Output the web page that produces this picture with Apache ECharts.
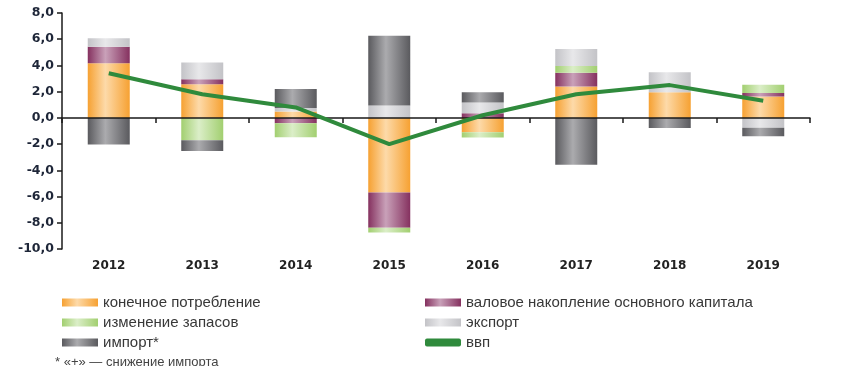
<!DOCTYPE html>
<html>
<head>
<meta charset="utf-8">
<script src="https://cdn.jsdelivr.net/npm/echarts@6/dist/echarts.min.js"></script>
<style>html,body{margin:0;padding:0;background:#fff;}#c{width:857px;height:366px;}</style>
</head>
<body>
<div id="c"></div>
<script>
var years = ['2012', '2013', '2014', '2015', '2016', '2017', '2018', '2019'];
var consumption = [4.17, 2.57, 0.48, -5.7, -1.1, 2.4, 1.96, 1.63];
var investment = [1.25, 0.38, -0.4, -2.67, 0.36, 1.05, 0, 0.26];
var inventories = [0, -1.7, -1.07, -0.38, -0.4, 0.5, 0, 0.63];
var exportVals = [0.65, 1.28, 0.27, 0.94, 0.81, 1.3, 1.53, -0.75];
var importVals = [-2.03, -0.82, 1.45, 5.32, 0.79, -3.57, -0.78, -0.65];
var gdp = [3.4, 1.8, 0.8, -2.0, 0.2, 1.8, 2.5, 1.3];
var yTicks = { min: -10, max: 8, interval: 2 };

function grad(edge, mid) {
  return new echarts.graphic.LinearGradient(0, 0, 1, 0, [
    { offset: 0, color: edge }, { offset: 0.42, color: mid }, { offset: 1, color: edge }
  ]);
}
var cols = {
  cons: grad('#f6a132', '#fddaa9'),
  inv: grad('#85315f', '#c9a1b9'),
  stock: grad('#a2cf70', '#dbeec8'),
  exp: grad('#c3c3c7', '#e8e8ea'),
  imp: grad('#5a5a5e', '#ababae')
};
var names = ['конечное потребление', 'валовое накопление основного капитала', 'изменение запасов', 'экспорт', 'импорт*', 'ввп'];

function bar(name, data, color) {
  return { name: name, type: 'bar', stack: 's', data: data, barWidth: 42,
    itemStyle: { color: color }, xAxisIndex: 0, yAxisIndex: 0, z: 2 };
}
var legendText = { fontFamily: 'Liberation Sans', fontSize: 15, color: '#383838', lineHeight: 15 };

var chart = echarts.init(document.getElementById('c'), null, { renderer: 'canvas' });
chart.setOption({
  animation: false,
  backgroundColor: '#ffffff',
  grid: { left: 62, right: 47, top: 13, bottom: 117, containLabel: false },
  xAxis: [
    { type: 'category', data: years, boundaryGap: true,
      axisLine: { onZero: true, lineStyle: { color: '#1a1a1a', width: 1.5 } },
      axisTick: { show: true, alignWithLabel: false, length: 5, lineStyle: { color: '#1a1a1a', width: 1.5 } },
      axisLabel: { show: false }, z: 5 },
    { type: 'category', data: years, position: 'bottom', boundaryGap: true,
      axisLine: { show: false, onZero: false }, axisTick: { show: false },
      axisLabel: { show: true, margin: 11, fontFamily: 'DejaVu Sans', fontWeight: 'bold', fontSize: 12, color: '#222' } }
  ],
  yAxis: {
    type: 'value', min: yTicks.min, max: yTicks.max, interval: yTicks.interval,
    axisLine: { show: true, lineStyle: { color: '#1a1a1a', width: 1.5 } },
    axisTick: { show: true, length: 5, lineStyle: { color: '#1a1a1a', width: 1.5 } },
    splitLine: { show: false },
    axisLabel: { margin: 8, fontFamily: 'DejaVu Sans', fontWeight: 'bold', fontSize: 12.5, color: '#1e2638',
      formatter: function (v) { return v.toFixed(1).replace('.', ','); } }
  },
  legend: [
    { orient: 'vertical', left: 57, top: 290, itemWidth: 36, itemHeight: 8, itemGap: 5,
      data: [{ name: names[0], icon: 'rect' }, { name: names[2], icon: 'rect' }, { name: names[4], icon: 'rect' }],
      textStyle: legendText },
    { orient: 'vertical', left: 420, top: 290, itemWidth: 36, itemHeight: 8, itemGap: 5,
      data: [{ name: names[1], icon: 'rect' }, { name: names[3], icon: 'rect' }, { name: names[5], icon: 'roundRect' }],
      textStyle: legendText }
  ],
  graphic: [
    { type: 'text', left: 55, top: 356,
      style: { text: '* «+» — снижение импорта', fontFamily: 'Liberation Sans', fontSize: 13, fill: '#444' } }
  ],
  series: [
    bar(names[0], consumption, cols.cons),
    bar(names[1], investment, cols.inv),
    bar(names[2], inventories, cols.stock),
    bar(names[3], exportVals, cols.exp),
    bar(names[4], importVals, cols.imp),
    { name: names[5], type: 'line', data: gdp, showSymbol: false, symbol: 'none',
      lineStyle: { color: '#2f8a3c', width: 4 }, itemStyle: { color: '#2f8a3c' }, z: 6 }
  ]
});
</script>
</body>
</html>
